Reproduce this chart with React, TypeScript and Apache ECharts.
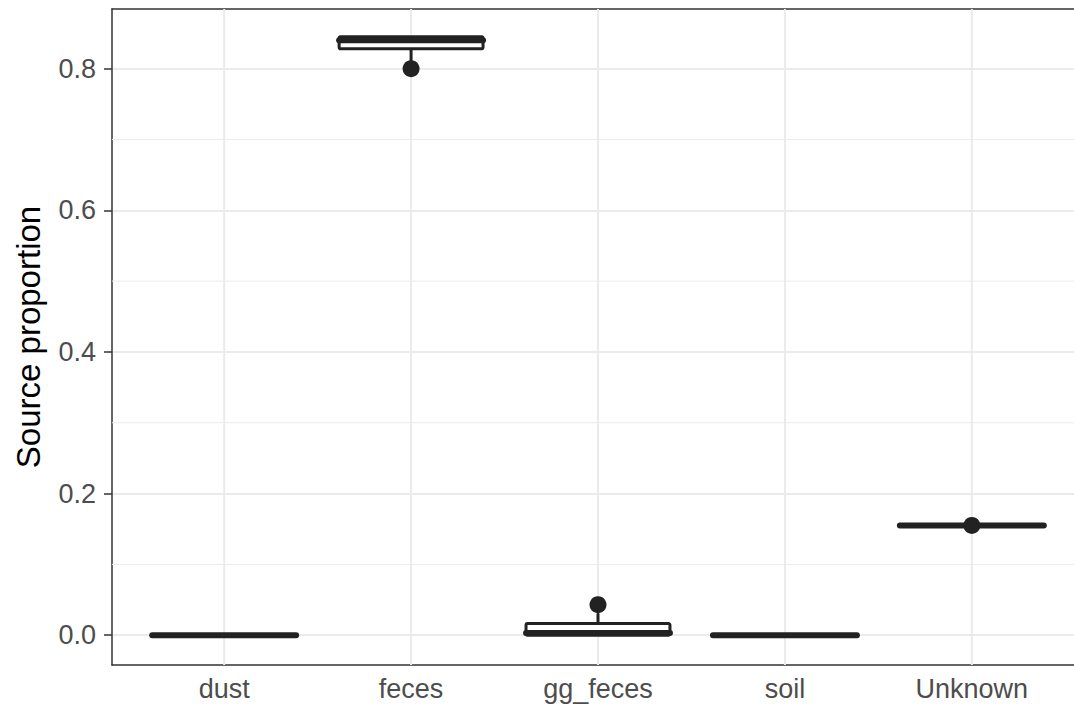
import React, { useEffect, useRef } from "react";
import * as echarts from "echarts";

const categories = ["dust", "feces", "gg_feces", "soil", "Unknown"];
// [lowerWhisker, q1, median, q3, upperWhisker]
const boxStats = [
  [0, 0, 0, 0, 0],
  [0.812, 0.828, 0.840, 0.845, 0.845],
  [0, 0, 0.003, 0.0165, 0.03],
  [0, 0, 0, 0, 0],
  [0.155, 0.155, 0.155, 0.155, 0.155],
];
// [categoryIndex(1-based), value]
const outliers = [
  [2, 0.8],
  [3, 0.043],
  [5, 0.155],
];
const yTicks = [0, 0.2, 0.4, 0.6, 0.8];
const yMinorGrid = [0.1, 0.3, 0.5, 0.7];

const FONT = "Liberation Sans, Arial, Helvetica, sans-serif";
const INK = "#222222";

export default function App() {
  const ref = useRef<HTMLDivElement>(null);
  useEffect(() => {
    if (!ref.current) return;
    const chart = echarts.init(ref.current, null, { renderer: "svg" });
    const boxData = boxStats.map((s, i) => [i + 1, ...s]);
    const halfW = 0.385;
    chart.setOption({
      animation: false,
      grid: {
        left: 112,
        top: 9,
        bottom: 43,
        right: 6,
        containLabel: false,
        outerBoundsMode: "none",
        show: false,
      },
      xAxis: [
        {
          type: "value",
          min: 0.4,
          max: 5.6,
          minInterval: 1,
          maxInterval: 1,
          axisLine: { show: true, onZero: false, lineStyle: { color: "#333333", width: 1.5 } },
          axisTick: { show: false },
          splitLine: { show: false },
          axisLabel: {
            customValues: [1, 2, 3, 4, 5],
            formatter: (v: number) => {
              const r = Math.round(v);
              return Math.abs(v - r) < 1e-6 && r >= 1 && r <= 5 ? categories[r - 1] : "";
            },
            color: "#4D4D4D",
            fontSize: 27,
            fontFamily: FONT,
            margin: 10,
          },
        },
        {
          type: "value",
          position: "top",
          min: 0.4,
          max: 5.6,
          axisLine: { show: true, onZero: false, lineStyle: { color: "#333333", width: 1.5 } },
          axisTick: { show: false },
          axisLabel: { show: false },
          splitLine: { show: false },
        },
      ],
      yAxis: {
        type: "value",
        min: -0.0421,
        max: 0.8842,
        minInterval: 0.2,
        maxInterval: 0.2,
        name: "Source proportion",
        nameLocation: "middle",
        nameRotate: 90,
        nameGap: 67,
        nameTextStyle: { color: "#000000", fontSize: 33, fontFamily: FONT },
        axisLine: { show: true, onZero: false, lineStyle: { color: "#333333", width: 1.5 } },
        axisTick: {
          show: true,
          customValues: yTicks,
          length: 8,
          lineStyle: { color: "#333333", width: 1.5 },
        },
        splitLine: { show: true, lineStyle: { color: "#EBEBEB", width: 2 } },
        axisLabel: {
          customValues: yTicks,
          formatter: (v: number) => v.toFixed(1),
          color: "#4D4D4D",
          fontSize: 27,
          fontFamily: FONT,
          margin: 16,
        },
      },
      series: [
        {
          type: "custom",
          z: 1,
          silent: true,
          data: yMinorGrid.map((v) => [1, v]),
          renderItem: (params: any, api: any) => {
            const cs = params.coordSys;
            const y = api.coord([1, api.value(1)])[1];
            return {
              type: "line",
              shape: { x1: cs.x, y1: y, x2: cs.x + cs.width, y2: y },
              style: { stroke: "#EBEBEB", lineWidth: 1 },
            };
          },
        },
        {
          type: "custom",
          z: 1,
          silent: true,
          data: categories.map((_, i) => [i + 1, 0]),
          renderItem: (params: any, api: any) => {
            const cs = params.coordSys;
            const x = api.coord([api.value(0), 0])[0];
            return {
              type: "line",
              shape: { x1: x, y1: cs.y, x2: x, y2: cs.y + cs.height },
              style: { stroke: "#EBEBEB", lineWidth: 2 },
            };
          },
        },
        {
          type: "custom",
          z: 5,
          data: boxData,
          renderItem: (params: any, api: any) => {
            const x = api.value(0);
            const lo = api.value(1);
            const q1 = api.value(2);
            const med = api.value(3);
            const q3 = api.value(4);
            const hi = api.value(5);
            const pL = api.coord([x - halfW, q1]);
            const pR = api.coord([x + halfW, q3]);
            const cx = api.coord([x, med])[0];
            const yLo = api.coord([x, lo])[1];
            const yHi = api.coord([x, hi])[1];
            const yMed = api.coord([x, med])[1];
            const stroke = { stroke: INK, lineWidth: 3, lineJoin: "round", lineCap: "round" };
            return {
              type: "group",
              children: [
                {
                  type: "line",
                  shape: { x1: cx, y1: pR[1], x2: cx, y2: yHi },
                  style: { ...stroke },
                },
                {
                  type: "line",
                  shape: { x1: cx, y1: pL[1], x2: cx, y2: yLo },
                  style: { ...stroke },
                },
                {
                  type: "rect",
                  shape: {
                    x: pL[0],
                    y: pR[1],
                    width: pR[0] - pL[0],
                    height: pL[1] - pR[1],
                    r: 1.5,
                  },
                  style: { fill: "#FFFFFF", ...stroke },
                },
                {
                  type: "line",
                  shape: { x1: pL[0], y1: yMed, x2: pR[0], y2: yMed },
                  style: { ...stroke, lineWidth: 6 },
                },
              ],
            };
          },
        },
        {
          type: "scatter",
          z: 6,
          symbol: "circle",
          symbolSize: 17,
          itemStyle: { color: INK, opacity: 1 },
          data: outliers,
        },
      ],
    });
    return () => chart.dispose();
  }, []);
  return (
    <div
      style={{
        position: "absolute",
        left: 0,
        top: 0,
        width: 1074,
        height: 708,
        overflow: "hidden",
        background: "#fff",
      }}
    >
      <div ref={ref} style={{ width: 1090, height: 708 }} />
    </div>
  );
}
